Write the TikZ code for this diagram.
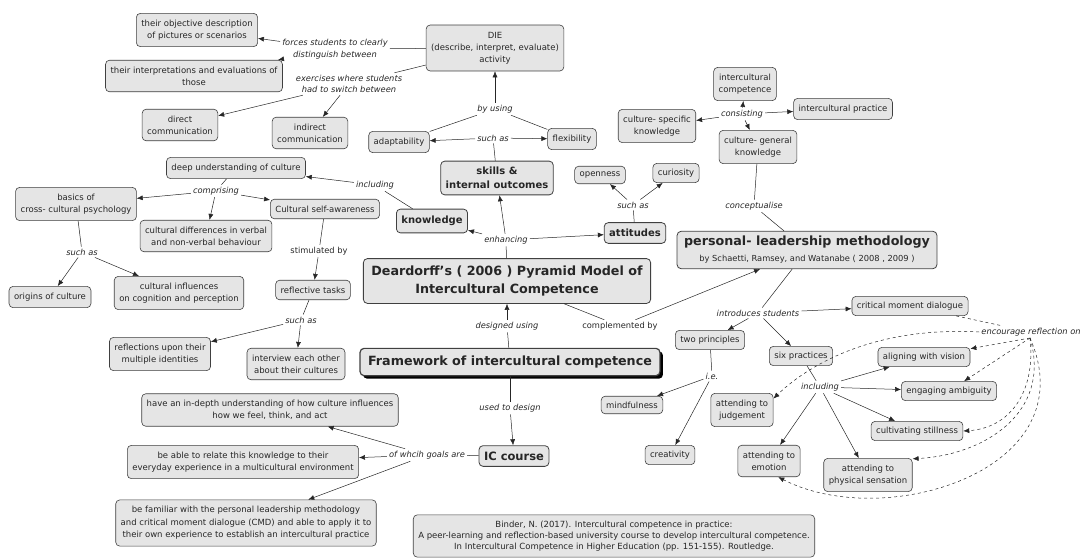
\documentclass[tikz,border=0pt]{standalone}
\usepackage{fontspec}
\setmainfont{DejaVu Sans}
\usetikzlibrary{arrows.meta,shadows}

\tikzset{
  box/.style={draw=black!75, fill=black!10, rounded corners=4pt, align=center,
    inner xsep=5pt, inner ysep=6.5pt, line width=0.6pt,
    font=\fontsize{8.5}{12}\selectfont},
  boldbox/.style={box, line width=0.8pt, inner ysep=6pt, font=\bfseries\fontsize{10}{14}\selectfont},
  bigbox/.style={box, line width=0.8pt, inner xsep=8pt, inner ysep=7pt, font=\bfseries\fontsize{12.7}{18.5}\selectfont},
  lnk/.style={align=center, inner sep=2pt, font=\itshape\fontsize{8.3}{11.5}\selectfont},
  plain/.style={lnk, font=\fontsize{8.3}{11.5}\selectfont},
  arr/.style={-{Latex[length=6pt,width=5pt]}},
  refl/.style={dashed, -{Latex[length=6pt,width=5pt]}},
}

\begin{document}
\begin{tikzpicture}[x=1pt,y=-1pt,line width=0.5pt,color=black!85]
\useasboundingbox (0,0) rectangle (1081,557);

% DIE activity
\node[box, inner ysep=7pt] (die) at (495,48) {DIE\\(describe, interpret, evaluate)\\activity};
\node[box] (obj) at (197,30) {their objective description\\of pictures or scenarios};
\node[box] (interp) at (194,76) {their interpretations and evaluations of\\those};
\node[box] (direct) at (180,125) {direct\\communication};
\node[box] (indirect) at (310,133) {indirect\\communication};
\node[lnk] (forces) at (335,49) {forces students to clearly\\distinguish between};
\node[lnk] (exerc) at (349,84) {exercises where students\\had to switch between};
\node[lnk] (byusing) at (495,109) {by using};
\node[box] (adapt) at (399,142) {adaptability};
\node[box] (flex) at (572,139) {flexibility};
\node[lnk] (suchA) at (493,138) {such as};
\node[boldbox] (skills) at (497,178) {skills \&\\internal outcomes};

% knowledge
\node[box] (deep) at (236,168) {deep understanding of culture};
\node[lnk] (incl) at (375,185) {including};
\node[boldbox, inner ysep=7pt] (know) at (432,221) {knowledge};
\node[lnk] (compr) at (216,191) {comprising};
\node[box] (basics) at (76,204) {basics of\\cross- cultural psychology};
\node[box] (diff) at (206,236) {cultural differences in verbal\\and non-verbal behaviour};
\node[box] (selfaw) at (325,209) {Cultural self-awareness};
\node[lnk] (suchB) at (82,252) {such as};
\node[box] (origins) at (50,297) {origins of culture};
\node[box] (influ) at (179,293) {cultural influences\\on cognition and perception};
\node[plain] (stim) at (319,251) {stimulated by};
\node[box] (tasks) at (313,290) {reflective tasks};
\node[lnk] (suchC) at (301,320) {such as};
\node[box] (ident) at (160,354) {reflections upon their\\multiple identities};
\node[box] (interview) at (296,364) {interview each other\\about their cultures};

% pyramid model
\node[bigbox] (pyramid) at (507,281) {Deardorff’s ( 2006 ) Pyramid Model of\\Intercultural Competence};
\node[lnk] (enh) at (506,240) {enhancing};
\node[boldbox, inner ysep=6.5pt] (att) at (635,233) {attitudes};
\node[lnk] (suchD) at (633,205) {such as};
\node[box, inner ysep=5.5pt] (open) at (600,175) {openness};
\node[box, inner ysep=5.5pt] (curio) at (676,173) {curiosity};

% intercultural competence
\node[box] (iccomp) at (745,84) {intercultural\\competence};
\node[lnk] (consist) at (742,114) {consisting};
\node[box] (cspec) at (657,126) {culture- specific\\knowledge};
\node[box] (practice) at (843,109) {intercultural practice};
\node[box] (cgen) at (758,147) {culture- general\\knowledge};
\node[lnk] (concept) at (754,206) {conceptualise};

% personal leadership
\node[box, line width=0.8pt, inner xsep=7pt, inner ysep=5pt, font=\fontsize{8.3}{16}\selectfont] (plm) at (807,250)
  {{\bfseries\fontsize{12.7}{16}\selectfont personal- leadership methodology}\\by Schaetti, Ramsey, and Watanabe ( 2008 , 2009 )};
\node[plain] (compl) at (620,326) {complemented by};
\node[lnk] (intro) at (758,313) {introduces students};
\node[box, inner ysep=5.5pt] (critical) at (910,306) {critical moment dialogue};
\node[box, inner ysep=5.5pt] (twoprin) at (710,340) {two principles};
\node[box, inner ysep=5.5pt] (sixprac) at (801,356) {six practices};
\node[lnk] (ie) at (712,376) {i.e.};
\node[box, inner ysep=5.5pt] (mind) at (632,405) {mindfulness};
\node[box, inner ysep=5.5pt] (creat) at (670,455) {creativity};
\node[lnk] (incl2) at (820,387) {including};
\node[box, inner ysep=5.5pt] (vision) at (924,357) {aligning with vision};
\node[box, inner ysep=5.5pt] (ambig) at (949,391) {engaging ambiguity};
\node[box] (judge) at (742,410) {attending to\\judgement};
\node[box, inner ysep=5.5pt] (still) at (917,431) {cultivating stillness};
\node[box] (emot) at (769,461) {attending to\\emotion};
\node[box] (phys) at (868,475) {attending to\\physical sensation};
\node[lnk] (encour) at (1031,332) {encourage reflection on};
\coordinate (encdot) at (1030,338);

% framework and course
\node[bigbox, line width=1.2pt, inner ysep=7.5pt, drop shadow={shadow xshift=3pt, shadow yshift=-3pt, fill=black, opacity=1}] (frame) at (510,362) {Framework of intercultural competence};
\node[lnk] (designed) at (507,326) {designed using};
\node[lnk] (usedto) at (510,408) {used to design};
\node[boldbox, inner ysep=6pt, font=\bfseries\fontsize{11.5}{14}\selectfont] (ic) at (514,456) {IC course};
\node[lnk] (goals) at (427,455) {of whcih goals are};
\node[box] (indepth) at (270,410) {have an in-depth understanding of how culture influences\\how we feel, think, and act};
\node[box] (relate) at (243,462) {be able to relate this knowledge to their\\everyday experience in a multicultural environment};
\node[box, font=\fontsize{8.5}{12.5}\selectfont] (familiar) at (246,523) {be familiar with the personal leadership methodology\\and critical moment dialogue (CMD) and able to apply it to\\their own experience to establish an intercultural practice};
\node[box, inner ysep=6pt, font=\fontsize{8.5}{11}\selectfont] (binder) at (614,536) {Binder, N. (2017). Intercultural competence in practice:\\A peer-learning and reflection-based university course to develop intercultural competence.\\In Intercultural Competence in Higher Education (pp. 151-155). Routledge.};

% links
\draw (die) -- (forces);
\draw[arr] (forces) -- (obj);
\draw[arr] (forces) -- (interp);
\draw (die) -- (exerc);
\draw[arr] (exerc) -- (direct);
\draw[arr] (exerc) -- (indirect);
\draw (adapt) -- (byusing);
\draw (flex) -- (byusing);
\draw[arr] (byusing) -- (die);
\draw (skills) -- (suchA);
\draw[arr] (suchA) -- (adapt);
\draw[arr] (suchA) -- (flex);
\draw (pyramid) -- (enh);
\draw[arr] (enh) -- (skills);
\draw[arr] (enh) -- (know);
\draw[arr] (enh) -- (att);
\draw (know) -- (incl);
\draw[arr] (incl) -- (deep);
\draw (deep) -- (compr);
\draw[arr] (compr) -- (basics);
\draw[arr] (compr) -- (diff);
\draw[arr] (compr) -- (selfaw);
\draw (basics) -- (suchB);
\draw[arr] (suchB) -- (origins);
\draw[arr] (suchB) -- (influ);
\draw (selfaw) -- (stim);
\draw[arr] (stim) -- (tasks);
\draw (tasks) -- (suchC);
\draw[arr] (suchC) -- (ident);
\draw[arr] (suchC) -- (interview);
\draw (att) -- (suchD);
\draw[arr] (suchD) -- (open);
\draw[arr] (suchD) -- (curio);
\draw[arr] (consist) -- (iccomp);
\draw[arr] (consist) -- (cspec);
\draw[arr] (consist) -- (practice);
\draw[arr] (consist) -- (cgen);
\draw (cgen) -- (concept);
\draw (concept) -- (plm);
\draw (pyramid) -- (compl);
\draw[arr] (compl) -- (plm);
\draw (plm) -- (intro);
\draw[arr] (intro) -- (critical);
\draw[arr] (intro) -- (twoprin);
\draw[arr] (intro) -- (sixprac);
\draw (twoprin) -- (ie);
\draw[arr] (ie) -- (mind);
\draw[arr] (ie) -- (creat);
\draw (sixprac) -- (incl2);
\draw[arr] (incl2) -- (vision);
\draw[arr] (incl2) -- (ambig);
\draw[arr] (incl2) -- (still);
\draw[arr] (incl2) -- (phys);
\draw[arr] (incl2) -- (emot);
\draw[dashed] (critical) -- (encour);
\draw[refl] (encdot) -- (vision);
\draw[refl] (encdot) -- (ambig);
\draw[refl] (encour.west) .. controls (870,326) and (805,368) .. (judge.20);
\draw[refl] (encdot) .. controls (1036,392) and (1010,428) .. (still.east);
\draw[refl] (encdot) .. controls (1052,412) and (985,455) .. (phys.20);
\draw[refl] (encdot) .. controls (1088,470) and (885,532) .. (emot.-60);
\draw (frame) -- (designed);
\draw[arr] (designed) -- (pyramid);
\draw (frame) -- (usedto);
\draw[arr] (usedto) -- (ic);
\draw (ic) -- (goals);
\draw[arr] (goals) -- (indepth);
\draw[arr] (goals) -- (relate);
\draw[arr] (goals) -- (familiar);
\end{tikzpicture}
\end{document}
